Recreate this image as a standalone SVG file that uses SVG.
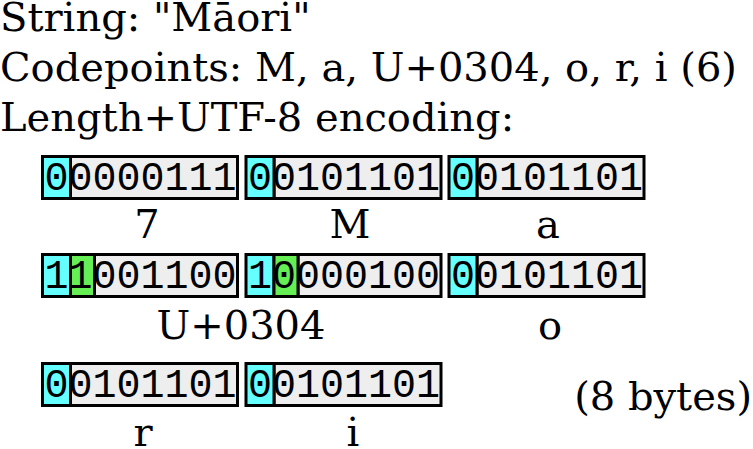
<svg xmlns="http://www.w3.org/2000/svg" width="753" height="449" viewBox="0 0 753 449">
<style>
.t{font-family:"DejaVu Serif",serif;font-size:40px;fill:#000}
.m{font-family:"Liberation Mono",monospace;font-size:40px;fill:#000}
.c{fill:#66ffff;stroke:#000;stroke-width:3}
.g{fill:#66ee55;stroke:#000;stroke-width:3}
.b{fill:#eeeeee;stroke:#000;stroke-width:3}
.l{text-anchor:middle}
</style>
<rect width="753" height="449" fill="#fff"/>
<g id="header">
<text class="t" x="0" y="31">String: "Māori"</text>
<text class="t" x="0" y="81">Codepoints: M, a, U+0304, o, r, i (6)</text>
<text class="t" x="0" y="131">Length+UTF-8 encoding:</text>
</g>
<g id="byte-len">
<rect class="b" x="70.5" y="156.5" width="167" height="42"/>
<rect class="c" x="42.5" y="156.5" width="28" height="42"/>
<text class="m" x="44.5" y="190">00000111</text>
<text class="t l" x="147" y="238">7</text>
</g>
<g id="byte-M">
<rect class="b" x="274" y="156.5" width="167" height="42"/>
<rect class="c" x="246" y="156.5" width="28" height="42"/>
<text class="m" x="248" y="190">00101101</text>
<text class="t l" x="350" y="238">M</text>
</g>
<g id="byte-a">
<rect class="b" x="477" y="156.5" width="167" height="42"/>
<rect class="c" x="449" y="156.5" width="28" height="42"/>
<text class="m" x="451" y="190">00101101</text>
<text class="t l" x="548" y="238">a</text>
</g>
<g id="bytes-U0304">
<rect class="b" x="94.5" y="254.5" width="143" height="42"/>
<rect class="c" x="42.5" y="254.5" width="28" height="42"/>
<rect class="g" x="70.5" y="254.5" width="24" height="42"/>
<text class="m" x="44.5" y="288">11001100</text>
<rect class="b" x="298" y="254.5" width="143" height="42"/>
<rect class="c" x="246" y="254.5" width="28" height="42"/>
<rect class="g" x="274" y="254.5" width="24" height="42"/>
<text class="m" x="248" y="288">10000100</text>
<text class="t l" x="241" y="339">U+0304</text>
</g>
<g id="byte-o">
<rect class="b" x="477" y="254.5" width="167" height="42"/>
<rect class="c" x="449" y="254.5" width="28" height="42"/>
<text class="m" x="451" y="288">00101101</text>
<text class="t l" x="550" y="339">o</text>
</g>
<g id="byte-r">
<rect class="b" x="70.5" y="363.5" width="167" height="42"/>
<rect class="c" x="42.5" y="363.5" width="28" height="42"/>
<text class="m" x="44.5" y="397">00101101</text>
<text class="t l" x="143" y="446">r</text>
</g>
<g id="byte-i">
<rect class="b" x="274" y="363.5" width="167" height="42"/>
<rect class="c" x="246" y="363.5" width="28" height="42"/>
<text class="m" x="248" y="397">00101101</text>
<text class="t l" x="353" y="446">i</text>
</g>
<g id="total">
<text class="t" x="752" y="410" text-anchor="end">(8 bytes)</text>
</g>
<g id="connectors"/>
</svg>
